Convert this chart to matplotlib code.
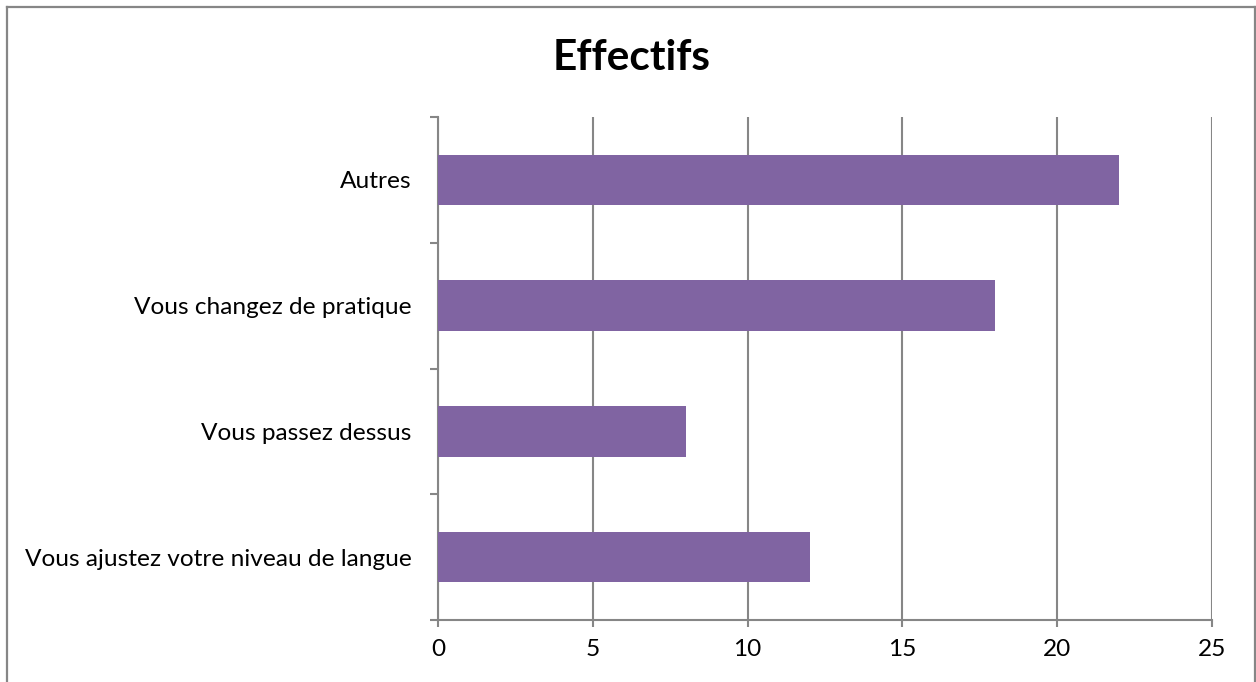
import matplotlib.pyplot as plt
from matplotlib.lines import Line2D

plt.rcParams['font.family'] = ['Lato', 'DejaVu Sans']

categories = ["Vous ajustez votre niveau de langue", "Vous passez dessus",
              "Vous changez de pratique", "Autres"]
effectifs = [12, 8, 18, 22]
xticks = [0, 5, 10, 15, 20, 25]

bar_color = "#8064A2"
line_color = "#868686"

fig = plt.figure(figsize=(12.56, 6.82), dpi=100)
ax = fig.add_axes([438 / 1256, 1 - 620 / 682, (1212 - 438) / 1256, (620 - 117) / 682])

ypos = list(range(len(categories)))
ax.barh(ypos, effectifs, height=0.4, color=bar_color, zorder=3)

ax.set_xlim(0, 25)
ax.set_ylim(-0.5, len(categories) - 0.5)
ax.set_xticks(xticks)
ax.set_xticklabels([str(v) for v in xticks])
ax.set_yticks(ypos)
ax.set_yticklabels(categories)
# tick marks sit between the categories
ax.set_yticks([p - 0.5 for p in ypos] + [len(categories) - 0.5], minor=True)
ax.tick_params(axis='y', which='major', length=0, pad=19, labelsize=17.6)
ax.tick_params(axis='y', which='minor', length=5.5, width=1.5, color=line_color, direction='out')
ax.tick_params(axis='x', length=5, width=1.5, color=line_color, direction='out', pad=9, labelsize=17.6)

ax.grid(axis='x', color=line_color, linewidth=1.5, zorder=0)
for side in ['top', 'right']:
    ax.spines[side].set_visible(False)
for side in ['left', 'bottom']:
    ax.spines[side].set_color(line_color)
    ax.spines[side].set_linewidth(1.5)

fig.text(632 / 1256, 1 - 58 / 682, "Effectifs", ha='center', va='center',
         fontsize=30.5, fontweight='bold')

# outer chart frame (open at the bottom)
x0, x1, y1 = 6.5 / 1256, 1254.5 / 1256, 1 - 6.5 / 682
for xs, ys in [([x0, x0], [0, y1]), ([x0, x1], [y1, y1]), ([x1, x1], [y1, 0])]:
    fig.add_artist(Line2D(xs, ys, color=line_color, linewidth=1.6, transform=fig.transFigure))

fig.savefig("out.png", dpi=100)
